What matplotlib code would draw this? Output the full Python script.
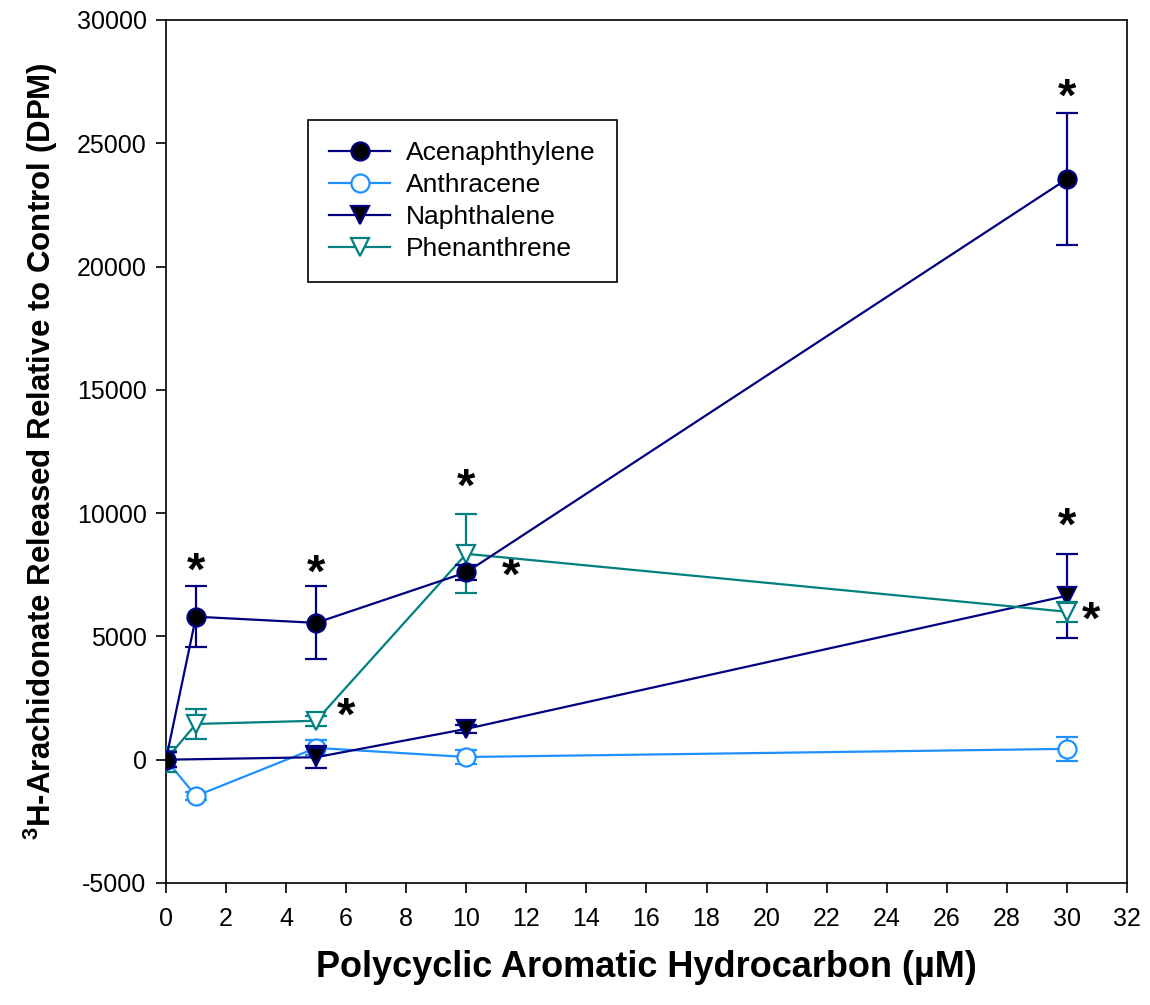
import matplotlib
matplotlib.use("Agg")
import matplotlib.pyplot as plt

plt.rcParams['font.family'] = ['Liberation Sans', 'DejaVu Sans']
plt.rcParams['axes.unicode_minus'] = False
plt.rcParams['mathtext.fontset'] = 'custom'
plt.rcParams['mathtext.rm'] = 'Liberation Sans:bold'

# concentrations (uM)
conc = [0, 1, 5, 10, 30]

acen = [0, 5800, 5550, 7600, 23550]
acen_err = [300, 1240, 1480, 300, 2680]
anth = [0, -1470, 480, 110, 440]
anth_err = [300, 150, 300, 300, 500]
naph = [0, None, 100, 1250, 6650]
naph_err = [300, None, 450, 150, 1700]
phen = [0, 1450, 1580, 8350, 6000]
phen_err = [500, 620, 200, 1600, 400]

# significance marks (x, y)
stars = [(1, 7600), (5, 7500), (10, 11000), (11.5, 7400), (6, 1700),
         (30, 26800), (30, 9400), (30.8, 5600)]

def clean(x, y, e):
    pts = [(a, b, c) for a, b, c in zip(x, y, e) if b is not None]
    return [p[0] for p in pts], [p[1] for p in pts], [p[2] for p in pts]

fig = plt.figure(figsize=(11.5, 10.05), dpi=100)
ax = fig.add_axes([0.1443, 0.1214, 0.8357, 0.8587])

navy = '#000080'
blue = '#1E90FF'
teal = '#008080'
ms = 13
lw = 1.6

series = [
    ('Acenaphthylene', acen, acen_err, navy, 'o', 'black', 5),
    ('Anthracene', anth, anth_err, blue, 'o', 'white', 4),
    ('Naphthalene', naph, naph_err, navy, 'v', 'black', 4),
    ('Phenanthrene', phen, phen_err, teal, 'v', 'white', 4),
]
for name, vals, errs, col, mk, fill, z in series:
    x, y, e = clean(conc, vals, errs)
    ax.errorbar(x, y, yerr=e, fmt='none', ecolor=col, capsize=8,
                elinewidth=lw, capthick=lw, zorder=z)
    ax.plot(x, y, color=col, lw=lw, marker=mk, ms=ms, mfc=fill, mec=col,
            mew=lw, label=name, zorder=z)

for sx, sy in stars:
    ax.text(sx, sy, '*', fontsize=34, fontweight='bold', ha='center', va='center')

ax.set_xlim(0, 32)
ax.set_ylim(-5000, 30000)
ax.set_xticks(range(0, 33, 2))
ax.set_yticks(range(-5000, 30001, 5000))
ax.tick_params(direction='out', length=7, width=1.2, labelsize=18)
ax.tick_params(axis='x', pad=10)
ax.tick_params(axis='y', pad=7)
for s in ax.spines.values():
    s.set_linewidth(1.2)

ax.set_xlabel('Polycyclic Aromatic Hydrocarbon (µM)', fontsize=26, fontweight='bold', labelpad=14)
ax.set_ylabel(r'$^{3}$H-Arachidonate Released Relative to Control (DPM)', fontsize=22.5,
              fontweight='bold', labelpad=12)

leg = ax.legend(loc='upper left', bbox_to_anchor=(0.148, 0.884), fontsize=19,
                frameon=True, fancybox=False, edgecolor='black', borderpad=0.8,
                borderaxespad=0, handlelength=2.3, handletextpad=0.6,
                labelspacing=0.3, framealpha=1)
leg.get_frame().set_linewidth(1.2)

fig.savefig('out.png', dpi=100)
